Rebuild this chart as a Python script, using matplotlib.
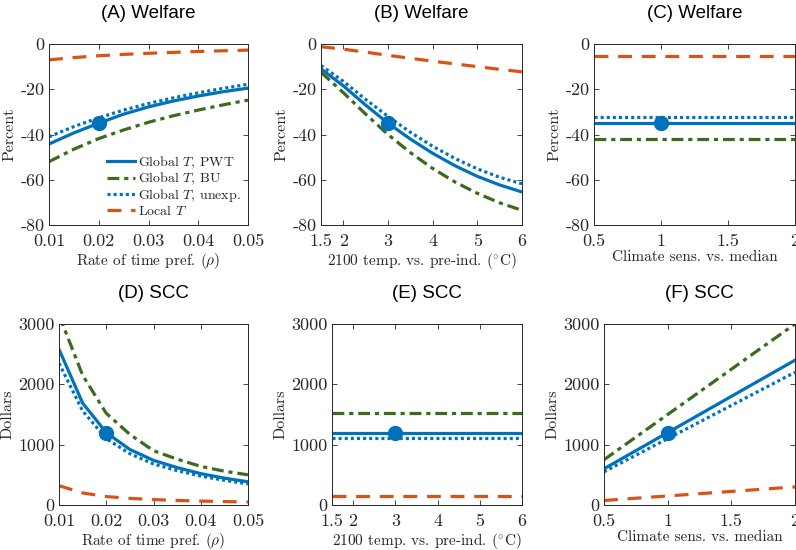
import matplotlib
matplotlib.use("Agg")
import matplotlib.pyplot as plt

# ---------------- data ----------------
rho = [0.01, 0.015, 0.02, 0.025, 0.03, 0.035, 0.04, 0.045, 0.05]
temp = [1.5, 2, 2.5, 3, 3.5, 4, 4.5, 5, 5.5, 6]
cs = [0.5, 1.0, 1.5, 2.0]

# Welfare (percent)
wA_pwt = [-44.2, -39.3, -35.0, -31.0, -27.8, -25.2, -23.0, -21.1, -19.5]
wA_bu = [-52.0, -46.5, -41.8, -38.0, -34.6, -31.7, -29.2, -26.9, -24.8]
wA_unexp = [-41.0, -36.5, -32.6, -29.2, -26.3, -23.8, -21.6, -19.6, -17.8]
wA_local = [-7.0, -6.0, -5.2, -4.6, -4.1, -3.7, -3.3, -3.0, -2.7]

wB_pwt = [-11.0, -18.5, -27.0, -35.0, -42.0, -48.3, -53.8, -58.5, -62.3, -65.4]
wB_bu = [-12.5, -21.5, -31.0, -40.0, -48.0, -55.0, -61.0, -66.0, -70.2, -73.5]
wB_unexp = [-9.5, -16.5, -24.5, -32.0, -39.0, -45.2, -50.6, -55.2, -58.9, -61.8]
wB_local = [-1.2, -2.3, -3.6, -5.0, -6.3, -7.6, -8.8, -10.0, -11.2, -12.3]

wC_pwt = [-35.0, -35.0, -35.0, -35.0]
wC_bu = [-42.0, -42.0, -42.0, -42.0]
wC_unexp = [-32.4, -32.4, -32.4, -32.4]
wC_local = [-5.2, -5.2, -5.2, -5.2]

# SCC (dollars)
sD_pwt = [2580, 1690, 1200, 920, 740, 620, 520, 445, 385]
sD_bu = [3150, 2150, 1520, 1170, 900, 760, 640, 560, 500]
sD_unexp = [2350, 1560, 1100, 850, 680, 570, 480, 410, 350]
sD_local = [320, 200, 140, 110, 90, 75, 65, 57, 50]

sE_pwt = [1200] * 10
sE_bu = [1517] * 10
sE_unexp = [1103] * 10
sE_local = [143] * 10

sF_pwt = [600, 1200, 1800, 2400]
sF_bu = [750, 1500, 2250, 3000]
sF_unexp = [550, 1100, 1650, 2200]
sF_local = [75, 150, 225, 300]

# baseline points
base_rho, base_temp, base_cs = 0.02, 3.0, 1.0
base_welfare, base_scc = -35.0, 1200

series_names = ["Global $T$, PWT", "Global $T$, BU", "Global $T$, unexp.", "Local $T$"]

titles = ["(A) Welfare", "(B) Welfare", "(C) Welfare", "(D) SCC", "(E) SCC", "(F) SCC"]
xlabels = [r"Rate of time pref. ($\rho$)", r"2100 temp. vs. pre-ind. ($^{\circ}$C)",
           "Climate sens. vs. median"]
rho_ticks = [0.01, 0.02, 0.03, 0.04, 0.05]
rho_ticklabels = ["0.01", "0.02", "0.03", "0.04", "0.05"]
temp_ticks = [1.5, 2, 3, 4, 5, 6]
temp_ticklabels = ["1.5", "2", "3", "4", "5", "6"]
cs_ticks = [0.5, 1, 1.5, 2]
cs_ticklabels = ["0.5", "1", "1.5", "2"]
welfare_ticks = [-80, -60, -40, -20, 0]
scc_ticks = [0, 1000, 2000, 3000]

# ---------------- style ----------------
plt.rcParams["font.family"] = ["cmr10", "DejaVu Serif"]
plt.rcParams["mathtext.fontset"] = "cm"
plt.rcParams["axes.formatter.use_mathtext"] = True
plt.rcParams["axes.unicode_minus"] = False
plt.rcParams["lines.scale_dashes"] = False

BLUE = "#0072BD"
GREEN = "#3A6B1E"
ORANGE = "#D95319"
AX_C = "#262626"
LW = 2.3

styles = [
    dict(color=BLUE, lw=LW, ls="-"),
    dict(color=GREEN, lw=LW, dashes=(8.5, 3.5, 3.0, 3.5), dash_capstyle="butt"),
    dict(color=BLUE, lw=LW, dashes=(2.2, 2.2), dash_capstyle="butt"),
    dict(color=ORANGE, lw=LW, dashes=(10.0, 7.0), dash_capstyle="butt"),
]

fig = plt.figure(figsize=(7.96, 5.5), dpi=100)
W, H = 796.0, 550.0

def add_ax(l, r, t, b):
    return fig.add_axes([l / W, 1 - b / H, (r - l) / W, (b - t) / H])

axA = add_ax(49, 248, 44, 225)
axB = add_ax(321, 522, 44, 225)
axC = add_ax(594, 795, 44, 225)
axD = add_ax(59, 248, 324, 505)
axE = add_ax(332, 522, 324, 505)
axF = add_ax(604, 795, 324, 505)

panels = [
    (axA, rho, [wA_pwt, wA_bu, wA_unexp, wA_local], base_rho, base_welfare),
    (axB, temp, [wB_pwt, wB_bu, wB_unexp, wB_local], base_temp, base_welfare),
    (axC, cs, [wC_pwt, wC_bu, wC_unexp, wC_local], base_cs, base_welfare),
    (axD, rho, [sD_pwt, sD_bu, sD_unexp, sD_local], base_rho, base_scc),
    (axE, temp, [sE_pwt, sE_bu, sE_unexp, sE_local], base_temp, base_scc),
    (axF, cs, [sF_pwt, sF_bu, sF_unexp, sF_local], base_cs, base_scc),
]

xinfo = [(rho_ticks, rho_ticklabels, (0.01, 0.05)),
         (temp_ticks, temp_ticklabels, (1.5, 6)),
         (cs_ticks, cs_ticklabels, (0.5, 2))]

for i, (ax, x, ys, bx, by) in enumerate(panels):
    lines = []
    for y, st in zip(ys, styles):
        ln, = ax.plot(x, y, **st)
        lines.append(ln)
    ax.plot([bx], [by], "o", color=BLUE, ms=10, zorder=5)
    ticks, tlabels, xl = xinfo[i % 3]
    ax.set_xlim(*xl)
    ax.set_xticks(ticks)
    ax.set_xticklabels(tlabels)
    if i < 3:
        ax.set_ylim(-80, 0)
        ax.set_yticks(welfare_ticks)
        ax.set_yticklabels([str(v) for v in welfare_ticks])
        ax.set_ylabel("Percent", fontsize=11.5, color=AX_C, labelpad=3)
    else:
        ax.set_ylim(0, 3000)
        ax.set_yticks(scc_ticks)
        ax.set_yticklabels([str(v) for v in scc_ticks])
        ax.set_ylabel("Dollars", fontsize=11.5, color=AX_C, labelpad=3)
    ax.set_xlabel(xlabels[i % 3], fontsize=11, color=AX_C, labelpad=1)
    ax.set_title(titles[i], fontsize=13.5, family="Liberation Sans", pad=19, color="black")
    ax.tick_params(direction="in", length=3.5, width=0.6, top=True, right=True,
                   labelsize=13, colors=AX_C)
    ax.tick_params(axis="x", pad=6.5)
    ax.tick_params(axis="y", pad=3)
    for sp in ax.spines.values():
        sp.set_linewidth(0.7)
        sp.set_color(AX_C)
    if i == 0:
        leg = ax.legend(lines, series_names, loc="lower right", frameon=False,
                        fontsize=10, handlelength=2.0, handletextpad=0.25,
                        labelspacing=0.0, borderaxespad=0.1,
                        bbox_to_anchor=(1.0, 0.0))
        for t in leg.get_texts():
            t.set_color(AX_C)

fig.savefig("out.png", dpi=100)
